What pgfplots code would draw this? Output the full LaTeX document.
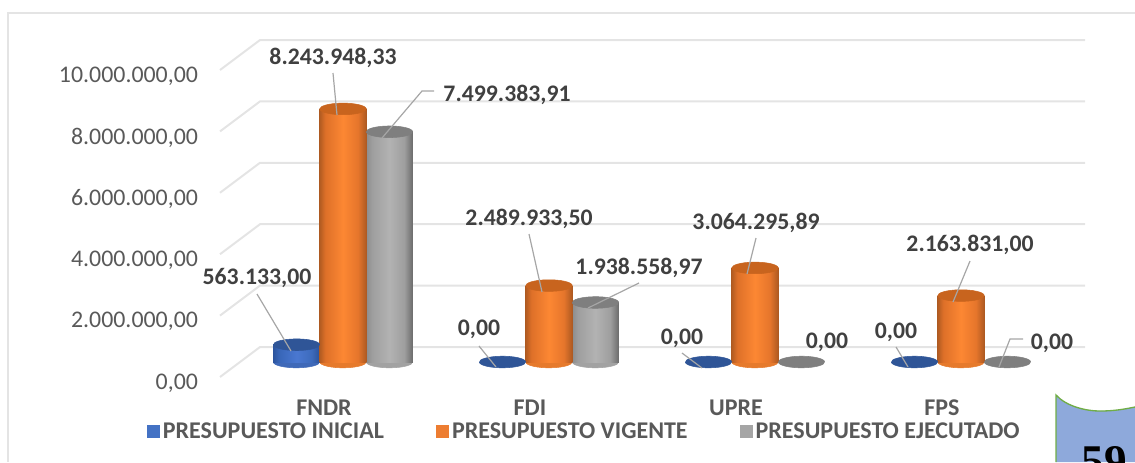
\documentclass[border=0pt]{standalone}
\usepackage{pgfplots}
\usepackage{pgfplotstable}
\pgfplotsset{compat=1.18}
\usepackage{fontspec}
\setmainfont{Carlito}
\newfontfamily\timesf{Liberation Serif}
\definecolor{txtdark}{HTML}{404040}
\definecolor{txtgray}{HTML}{595959}
\definecolor{gridc}{HTML}{E4E4E4}
\definecolor{leader}{HTML}{A6A6A6}
\definecolor{blueT}{HTML}{2F5597}
\definecolor{orangeT}{HTML}{C8641E}
\definecolor{grayT}{HTML}{7F7F7F}
\definecolor{blueB}{HTML}{3F69B8}
\definecolor{orangeB}{HTML}{E67A2C}
\definecolor{grayB}{HTML}{A2A2A2}
\definecolor{blueL}{HTML}{4472C4}
\definecolor{orangeL}{HTML}{ED7D31}
\definecolor{grayL}{HTML}{A5A5A5}
\pgfdeclarehorizontalshading{cylblue}{100bp}{rgb(0bp)=(0.17,0.33,0.62); rgb(25bp)=(0.17,0.33,0.62); rgb(31bp)=(0.22,0.40,0.72); rgb(50bp)=(0.29,0.47,0.82); rgb(66bp)=(0.24,0.42,0.74); rgb(75bp)=(0.17,0.32,0.60); rgb(100bp)=(0.17,0.32,0.60)}
\pgfdeclarehorizontalshading{cylorange}{100bp}{rgb(0bp)=(0.70,0.36,0.13); rgb(25bp)=(0.70,0.36,0.13); rgb(31bp)=(0.87,0.44,0.16); rgb(50bp)=(0.99,0.53,0.20); rgb(66bp)=(0.90,0.46,0.17); rgb(75bp)=(0.68,0.35,0.13); rgb(100bp)=(0.68,0.35,0.13)}
\pgfdeclarehorizontalshading{cylgray}{100bp}{rgb(0bp)=(0.55,0.55,0.55); rgb(25bp)=(0.55,0.55,0.55); rgb(31bp)=(0.62,0.62,0.62); rgb(50bp)=(0.70,0.70,0.70); rgb(66bp)=(0.62,0.62,0.62); rgb(75bp)=(0.42,0.42,0.42); rgb(100bp)=(0.42,0.42,0.42)}
\pgfplotstableread{
x y
-0.2257 563133.00
0.7743 0
1.7743 0
2.7743 0
}\tblinicial
\pgfplotstableread{
x y
0 8243948.33
1 2489933.50
2 3064295.89
3 2163831.00
}\tblvigente
\pgfplotstableread{
x y
0.2257 7499383.91
1.2257 1938558.97
2.2257 0
3.2257 0
}\tblejecutado
\pgfplotsset{
  cylaxis/.style={
    scale only axis, width=648.75pt, height=252.75pt,
    xmin=-0.50485, xmax=3.6942, ymin=0, ymax=10977199,
    clip=false, axis line style={draw=none}, tick style={draw=none},
    scaled y ticks=false},
  cylbar/.style={ybar, bar width=34.9pt, bar shift=0pt, draw=none, shading=#1, shading angle=0},
  cyltop/.style={only marks, mark=*, mark size=17.4pt, mark options={draw=#1, fill=#1, yscale=0.25, rotate=4}},
  sqlegend/.style={legend image code/.code={\fill[##1, draw=none] (-1.5pt,-5pt) rectangle (8.5pt,5pt);}}
}
\begin{document}
\begin{tikzpicture}[x=0.75pt,y=-0.75pt]
\path[use as bounding box] (0,0) rectangle (1135,462);
\draw[color=gridc, line width=1pt] (8,462) -- (8,13) -- (1135,13);

% back wall: grid, tick labels, legend
\begin{axis}[cylaxis, at={(165pt,-282.75pt)}, anchor=south west,
  ytick={0,2000000,4000000,6000000,8000000,10000000},
  yticklabels={{0,00},{2.000.000,00},{4.000.000,00},{6.000.000,00},{8.000.000,00},{10.000.000,00}},
  yticklabel style={font=\fontsize{17.9pt}{20pt}\selectfont, text=txtgray, xshift=-13pt, yshift=-4.5pt},
  xtick={0,1,2,3}, xticklabels={FNDR,FDI,UPRE,FPS},
  xticklabel style={font=\fontsize{18pt}{20pt}\selectfont\bfseries, text=txtgray, yshift=-13.5pt},
  legend columns=3,
  legend style={draw=none, fill=none, at={(-58pt,-30pt)}, anchor=north west,
    font=\fontsize{18pt}{20pt}\selectfont\bfseries, text=txtgray,
    /tikz/every even column/.append style={column sep=37pt}},
  legend cell align=left,
]
\addlegendimage{sqlegend, fill=blueL}
\addlegendentry{PRESUPUESTO INICIAL}
\addlegendimage{sqlegend, fill=orangeL}
\addlegendentry{PRESUPUESTO VIGENTE}
\addlegendimage{sqlegend, fill=grayL}
\addlegendentry{PRESUPUESTO EJECUTADO}
\addplot[gridc, line width=1.5pt] coordinates {(-0.50485,0) (-0.3107,977199) (3.6942,977199)};
\addplot[gridc, line width=1.5pt] coordinates {(-0.50485,2000000) (-0.3107,2977199) (3.6942,2977199)};
\addplot[gridc, line width=1.5pt] coordinates {(-0.50485,4000000) (-0.3107,4977199) (3.6942,4977199)};
\addplot[gridc, line width=1.5pt] coordinates {(-0.50485,6000000) (-0.3107,6977199) (3.6942,6977199)};
\addplot[gridc, line width=1.5pt] coordinates {(-0.50485,8000000) (-0.3107,8977199) (3.6942,8977199)};
\addplot[gridc, line width=1.5pt] coordinates {(-0.50485,10000000) (-0.3107,10977199) (3.6942,10977199)};
\end{axis}

% cylinder bottoms, own axis so they stay behind the bars
\begin{axis}[cylaxis, at={(179.25pt,-271.5pt)}, anchor=south west, xtick=\empty, ytick=\empty]
\addplot[cyltop=blueB] coordinates {(-0.2257,0)};
\addplot[cyltop=grayB] coordinates {(0.2257,0) (1.2257,0)};
\addplot[cyltop=orangeB] table[x=x,y expr=0] {\tblvigente};
\end{axis}

% cylinders; one plot per bar so each gets its own shading
\begin{axis}[cylaxis, at={(179.25pt,-271.5pt)}, anchor=south west, xtick=\empty, ytick=\empty]
% inicial
\addplot[cylbar=cylblue] coordinates {(-0.2257,563133.00)};
\addplot[cyltop=blueT] table[x=x,y=y] {\tblinicial};
% ejecutado
\addplot[cylbar=cylgray] coordinates {(0.2257,7499383.91)};
\addplot[cylbar=cylgray] coordinates {(1.2257,1938558.97)};
\addplot[cyltop=grayT] table[x=x,y=y] {\tblejecutado};
% vigente
\addplot[cylbar=cylorange] coordinates {(0,8243948.33)};
\addplot[cylbar=cylorange] coordinates {(1,2489933.50)};
\addplot[cylbar=cylorange] coordinates {(2,3064295.89)};
\addplot[cylbar=cylorange] coordinates {(3,2163831.00)};
\addplot[cyltop=orangeT] table[x=x,y=y] {\tblvigente};
\end{axis}

% leader lines and value labels
\begin{scope}[leader, line width=0.9pt]
\draw (333,73) -- (337,115);
\draw (434,91) -- (422,91) -- (382,138);
\draw (257,294) -- (291,351);
\draw (529,234) -- (542,292);
\draw (639,283) -- (588,308);
\draw (479,346) -- (496,367);
\draw (756,238) -- (747,274);
\draw (682,353) -- (702,368);
\draw (970,261) -- (953,302);
\draw (896,347) -- (908,367);
\draw (1023,339) -- (1010,339) -- (999,367);
\end{scope}
\begin{scope}[every node/.style={font=\fontsize{17.8pt}{20pt}\selectfont\bfseries, text=txtdark, inner sep=0pt}]
\node at (333,58) {8.243.948,33};
\node at (507,95) {7.499.383,91};
\node at (257,278) {563.133,00};
\node at (529,219) {2.489.933,50};
\node at (639,268) {1.938.558,97};
\node at (479,329) {0,00};
\node at (756,223) {3.064.295,89};
\node at (682,338) {0,00};
\node at (827,342) {0,00};
\node at (970,245) {2.163.831,00};
\node at (896,332) {0,00};
\node at (1052,343) {0,00};
\end{scope}

% page number tab
\begin{scope}
\clip (0,0) rectangle (1135,462);
\fill[fill={rgb,255:red,142;green,169;blue,219}] (1056,395) .. controls (1066,406) and (1085,411) .. (1100,411) .. controls (1115,411) and (1125,409) .. (1135,407) -- (1135,462) -- (1056,462) -- cycle;
\draw[color={rgb,255:red,112;green,173;blue,71}, line width=1pt] (1056,462) -- (1056,395) .. controls (1066,406) and (1085,411) .. (1100,411) .. controls (1115,411) and (1125,409) .. (1135,407);
\node[font=\fontsize{34pt}{36pt}\timesf\bfseries, anchor=base] at (1104,476) {59};
\end{scope}
\end{tikzpicture}
\end{document}
